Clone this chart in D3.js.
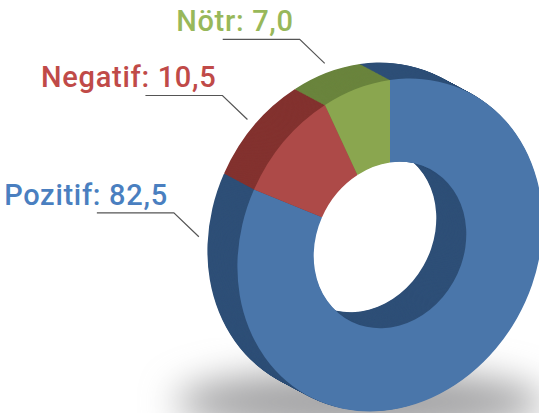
<!DOCTYPE html>
<html>
<head>
<meta charset="utf-8">
<script src="https://cdn.jsdelivr.net/npm/d3@7"></script>
<style>
  html, body { margin: 0; padding: 0; background: #fff; }
  svg { display: block; }
</style>
</head>
<body>
<div id="chart"></div>
<script>
// Data
var labels = ["Pozitif", "Negatif", "Nötr"];
var values = [82.5, 10.5, 7.0];
var frontColors = ["#4a76aa", "#ad4a48", "#8aa64f"];
var sideColors = ["#2e4f77", "#83322f", "#6a843d"];
var textColors = ["#4a7fc0", "#c04a48", "#98b85a"];

var width = 539,
    height = 413;

// Projection of the tilted face: unit circle of radius 100 -> screen
var center = [390, 245],
    axisU = [152.6, -21.8],
    axisV = [0, 165],
    depth = [-30, -16],
    layers = 40;

var svg = d3.select("#chart")
    .append("svg")
    .attr("width", width)
    .attr("height", height);

// Soft shadow under the ring
var defs = svg.append("defs");
defs.append("filter")
    .attr("id", "blur")
    .attr("x", "-50%").attr("y", "-50%")
    .attr("width", "200%").attr("height", "200%")
    .append("feGaussianBlur")
    .attr("stdDeviation", 18);

svg.append("ellipse")
    .attr("cx", 360)
    .attr("cy", 402)
    .attr("rx", 185)
    .attr("ry", 32)
    .attr("fill", "#a4a4a6")
    .attr("filter", "url(#blur)");

var pie = d3.pie().sort(null)(values);

var arc = d3.arc()
    .innerRadius(50)
    .outerRadius(100);

function faceTransform(k) {
    return "matrix(" + axisU[0] / 100 + "," + axisU[1] / 100 + "," +
        axisV[0] / 100 + "," + axisV[1] / 100 + "," +
        (center[0] + depth[0] * k) + "," + (center[1] + depth[1] * k) + ")";
}

// Extruded side: layers from back to front
var layerData = d3.range(layers, 0, -1).map(i => i / layers);

svg.append("g")
    .selectAll("g")
    .data(layerData)
    .enter()
    .append("g")
    .attr("transform", d => faceTransform(d))
    .selectAll("path")
    .data(pie)
    .enter()
    .append("path")
    .attr("d", arc)
    .attr("fill", (d, i) => sideColors[i]);

// Front face
svg.append("g")
    .attr("transform", faceTransform(0))
    .selectAll("path")
    .data(pie)
    .enter()
    .append("path")
    .attr("d", arc)
    .attr("fill", (d, i) => frontColors[i]);

// Labels with leader lines, anchored on the back rim
function project(angle, r, k) {
    var u = Math.sin(angle) * r, v = -Math.cos(angle) * r;
    return [center[0] + axisU[0] * u + axisV[0] * v + depth[0] * k,
            center[1] + axisU[1] * u + axisV[1] * v + depth[1] * k];
}

var labelAngles = pie.map((d, i) => i === 0 ? -85 * Math.PI / 180 : (d.startAngle + d.endAngle) / 2);

var label = svg.append("g")
    .selectAll("g")
    .data(pie)
    .enter()
    .append("g");

label.each(function(d, i) {
    var g = d3.select(this);
    var p = project(labelAngles[i], 1.06, 1);
    var elbow = [p[0] - 25, p[1] - 24];
    g.append("polyline")
        .attr("points", [[elbow[0] - 77, elbow[1]], elbow, p].map(q => q.join(",")).join(" "))
        .attr("fill", "none")
        .attr("stroke", "#555")
        .attr("stroke-width", 1.2);
    g.append("text")
        .attr("x", elbow[0] - 6)
        .attr("y", elbow[1] - 8)
        .attr("text-anchor", "end")
        .attr("font-family", "Roboto, sans-serif")
        .attr("font-weight", 500)
        .attr("font-size", 29)
        .attr("letter-spacing", 0.7)
        .style("font-variant-ligatures", "none")
        .attr("fill", textColors[i])
        .text(labels[i] + ": " + d3.format(".1f")(values[i]).replace(".", ","));
});
</script>
</body>
</html>
